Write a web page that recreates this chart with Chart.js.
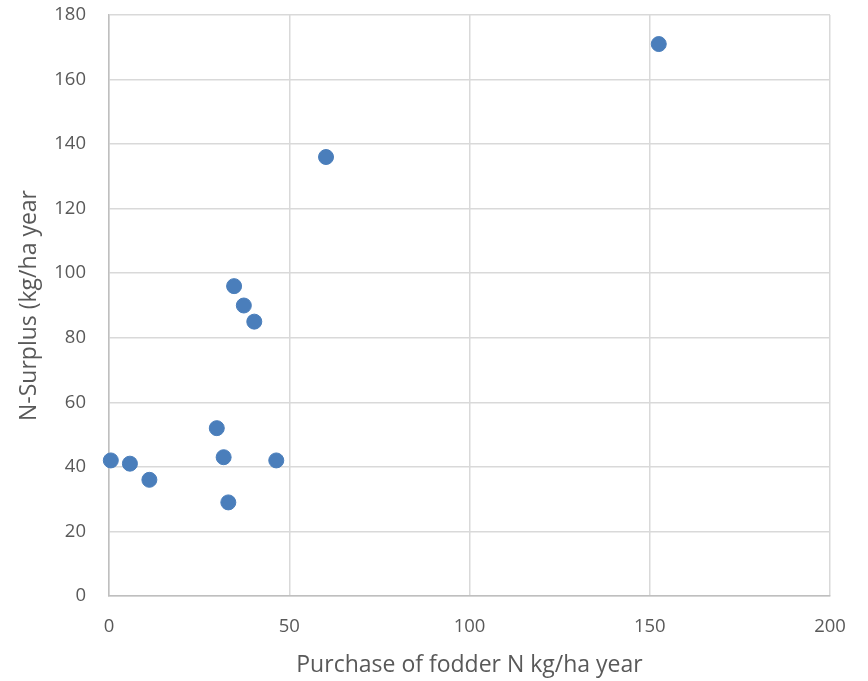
<!DOCTYPE html>
<html>
<head>
<meta charset="utf-8">
<script src="https://cdn.jsdelivr.net/npm/chart.js@4"></script>
<style>
  html, body { margin: 0; padding: 0; background: #fff; }
  #wrap { width: 868px; height: 681px; }
</style>
</head>
<body>
<div id="wrap"><canvas id="c" width="868" height="681"></canvas></div>
<script>
// purchase of fodder N (kg/ha year)
const fodderN = [0.5, 5.8, 11.2, 29.9, 31.8, 33.1, 34.7, 37.4, 40.3, 46.4, 60.2, 152.5];
// N surplus (kg/ha year)
const surplusN = [42, 41, 36, 52, 43, 29, 96, 90, 85, 42, 136, 171];

const xTicks = [0, 50, 100, 150, 200];
const yTicks = [0, 20, 40, 60, 80, 100, 120, 140, 160, 180];

const points = fodderN.map((x, i) => ({ x: x, y: surplusN[i] }));

const font = '"Open Sans", sans-serif';

new Chart(document.getElementById('c'), {
  type: 'scatter',
  data: {
    datasets: [{
      data: points,
      backgroundColor: '#4a7ebb',
      borderColor: '#4a7ebb',
      pointRadius: 7.5,
      pointHoverRadius: 7.5,
      clip: false,
    }],
  },
  options: {
    responsive: false,
    animation: false,
    layout: { padding: { top: 15, right: 38, left: 0, bottom: 0 } },
    plugins: { legend: { display: false }, tooltip: { enabled: false } },
    scales: {
      x: {
        type: 'linear',
        min: 0,
        max: 200,
        afterBuildTicks: (s) => { s.ticks = xTicks.map(v => ({ value: v })); },
        afterFit: (s) => { s.height = 85; s.paddingLeft = 0; s.paddingRight = 0; },
        grid: { color: '#d9d9d9', lineWidth: 1.5, drawTicks: false },
        border: { color: '#bfbfbf', width: 1.5 },
        ticks: { color: '#595959', font: { family: font, size: 18.5 }, padding: 20 },
        title: {
          display: true,
          text: 'Purchase of fodder N kg/ha year',
          color: '#595959',
          font: { family: font, size: 23 },
          padding: { top: 8, bottom: 2 },
        },
      },
      y: {
        type: 'linear',
        min: 0,
        max: 180,
        afterBuildTicks: (s) => { s.ticks = yTicks.map(v => ({ value: v })); },
        afterFit: (s) => { s.width = 109; s.paddingTop = 0; s.paddingBottom = 0; },
        grid: { color: '#d9d9d9', lineWidth: 1.5, drawTicks: false },
        border: { color: '#bfbfbf', width: 1.5 },
        ticks: { color: '#595959', font: { family: font, size: 18.5 }, padding: 23 },
        title: {
          display: true,
          text: 'N-Surplus (kg/ha year',
          color: '#595959',
          font: { family: font, size: 23 },
          padding: { top: 16, bottom: 4 },
        },
      },
    },
  },
});
</script>
</body>
</html>
